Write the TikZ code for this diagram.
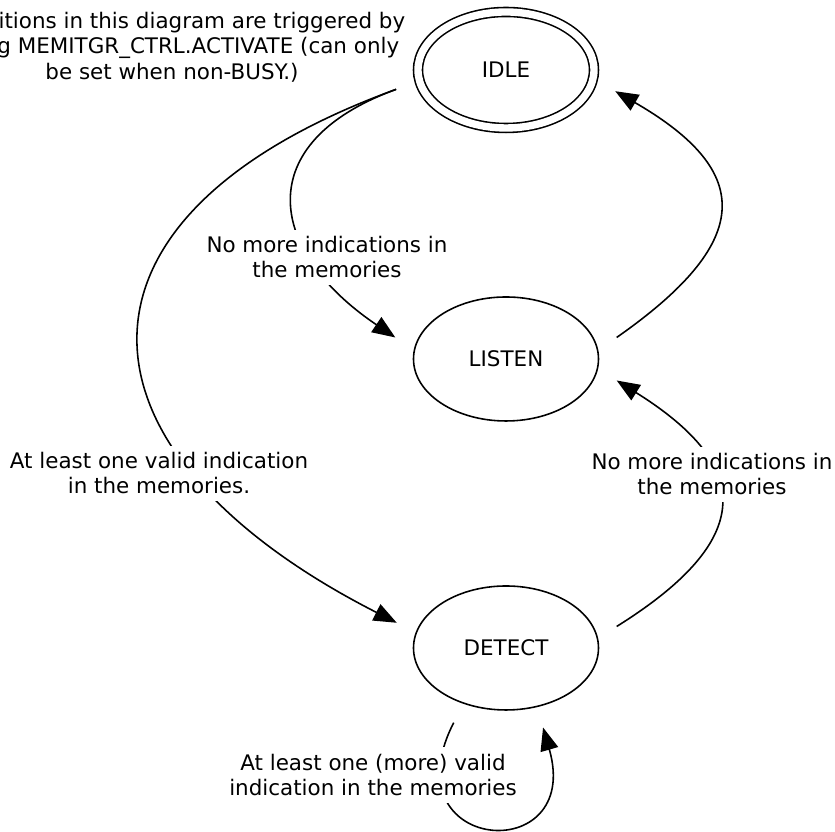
\documentclass[tikz,border=0pt]{standalone}
\usepackage{fontspec}
\setmainfont{DejaVu Sans}
\usetikzlibrary{arrows.meta,shapes.geometric}

\begin{document}
\begin{tikzpicture}[
  font=\fontsize{12.2}{14.2}\selectfont,
  line width=0.9pt,
  state/.style={draw, ellipse, inner sep=0pt, minimum width=3.7cm,
    minimum height=2.48cm, outer sep=0.44cm},
  start/.style={state, double, double distance=4.2pt, minimum width=3.52cm,
    minimum height=2.32cm, outer sep=0.5cm},
  lbl/.style={fill=white, align=center, inner sep=4pt},
  note/.style={inner sep=0pt},
  arr/.style={-{Triangle[length=0.46cm, width=0.36cm]}},
]
  \useasboundingbox (0,0) rectangle (16.7,16.64);

  % ===== states =====
  \node[start] (idle) at (10.12,15.24) {IDLE};
  \node[state] (listen) at (10.12,9.46) {LISTEN};
  \node[state] (detect) at (10.12,3.68) {DETECT};

  % ===== transitions =====
  \draw[arr] (idle.190) to[out=200, in=146, looseness=1.6] (listen.169);
  \draw[arr] (idle.190) to[out=200, in=153, looseness=1.8] (detect.167);
  \draw[arr] (listen.11) to[out=35, in=330, looseness=1.7] (idle.349);
  \draw[arr] (detect.11) to[out=32, in=328, looseness=1.7] (listen.349);
  \draw[arr] (detect.235) to[out=243, in=286, looseness=4.2] (detect.295);

  % ===== labels =====
  \node[lbl, inner xsep=0.55cm] (l-nomore1) at (6.54,11.49)
    {No more indications in\\the memories};
  \node[lbl] (l-valid) at (3.18,7.17) {At least one valid indication\\in the memories.};
  \node[lbl] (l-nomore2) at (14.24,7.15) {No more indications in\\the memories};
  \node[lbl] (l-more) at (7.46,1.14)
    {At least one (more) valid\\indication in the memories};

  % ===== note (cut at the left border) =====
  \node[note, anchor=base east] (note1) at (8.12,16.07)
    {itions in this diagram are triggered by};
  \node[note, anchor=base east] (note2) at (8.0,15.56)
    {g MEMITGR\_CTRL.ACTIVATE (can only};
  \node[note, anchor=base] (note3) at (3.44,15.05)
    {be set when non-BUSY.)};
\end{tikzpicture}
\end{document}
